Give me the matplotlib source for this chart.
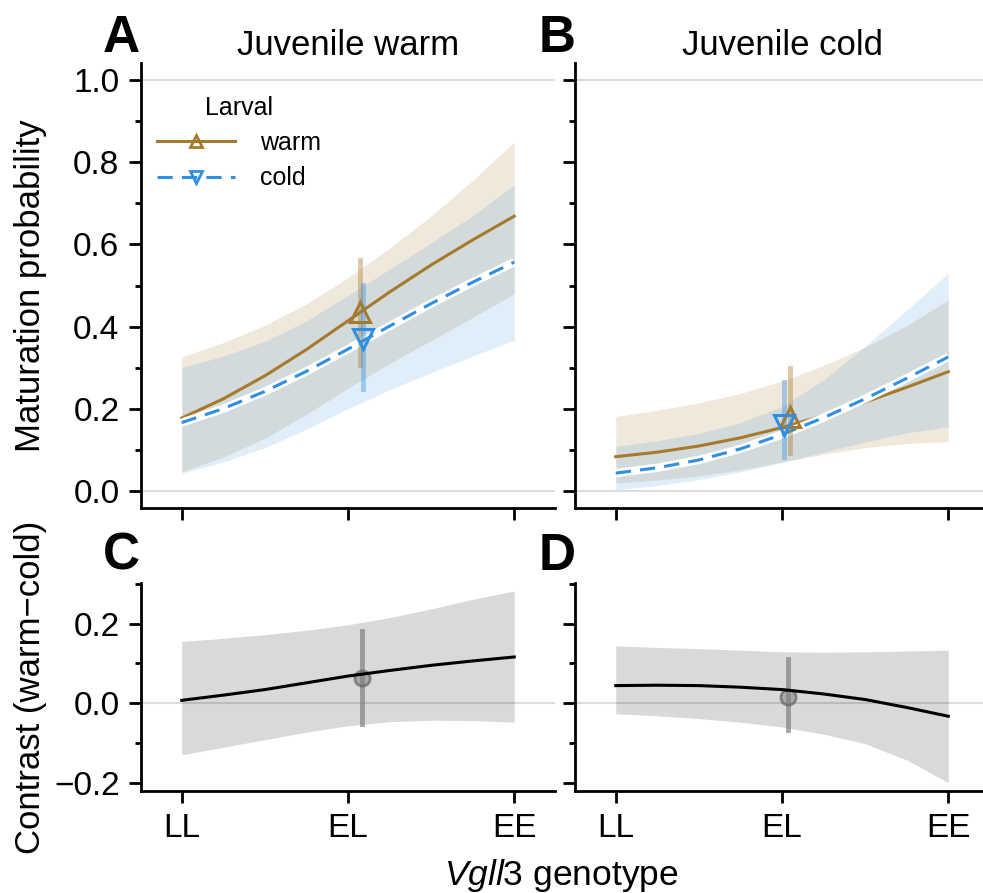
import matplotlib
matplotlib.use('Agg')
import matplotlib.pyplot as plt
from matplotlib.lines import Line2D
from matplotlib.ticker import MultipleLocator

plt.rcParams['font.family'] = ['Liberation Sans', 'DejaVu Sans']
plt.rcParams['mathtext.fontset'] = 'custom'
plt.rcParams['mathtext.it'] = 'Liberation Sans:italic'
plt.rcParams['mathtext.rm'] = 'Liberation Sans'

# genotype axis (0 = LL, 1 = EL, 2 = EE)
genotypes = ['LL', 'EL', 'EE']
xg = [0, 0.25, 0.5, 0.75, 1.0, 1.25, 1.5, 1.75, 2.0]

# A: juvenile warm
a_warm = [0.177, 0.224, 0.280, 0.344, 0.414, 0.484, 0.550, 0.611, 0.669]
a_warm_hi = [0.326, 0.361, 0.403, 0.455, 0.519, 0.591, 0.669, 0.756, 0.850]
a_warm_lo = [0.046, 0.082, 0.128, 0.186, 0.250, 0.310, 0.366, 0.422, 0.480]
a_cold = [0.166, 0.200, 0.242, 0.291, 0.345, 0.401, 0.456, 0.508, 0.557]
a_cold_hi = [0.300, 0.328, 0.364, 0.414, 0.476, 0.540, 0.604, 0.670, 0.745]
a_cold_lo = [0.043, 0.070, 0.105, 0.150, 0.200, 0.246, 0.288, 0.328, 0.367]
a_pts = {'warm': (1.075, 0.436, 0.306, 0.562), 'cold': (1.09, 0.370, 0.248, 0.501)}

# B: juvenile cold
b_warm = [0.083, 0.094, 0.109, 0.129, 0.154, 0.183, 0.216, 0.252, 0.290]
b_warm_hi = [0.181, 0.196, 0.214, 0.237, 0.267, 0.305, 0.350, 0.402, 0.465]
b_warm_lo = [0.019, 0.026, 0.036, 0.051, 0.070, 0.089, 0.105, 0.115, 0.120]
b_cold = [0.043, 0.056, 0.075, 0.102, 0.137, 0.178, 0.224, 0.274, 0.326]
b_cold_hi = [0.108, 0.122, 0.140, 0.166, 0.205, 0.270, 0.352, 0.440, 0.530]
b_cold_lo = [0.002, 0.013, 0.027, 0.046, 0.069, 0.094, 0.119, 0.141, 0.156]
b_pts = {'warm': (1.05, 0.180, 0.093, 0.298), 'cold': (1.01, 0.160, 0.083, 0.266)}

# C / D: contrast warm - cold
c_mid = [0.007, 0.020, 0.034, 0.051, 0.068, 0.082, 0.095, 0.106, 0.116]
c_hi = [0.155, 0.163, 0.172, 0.183, 0.197, 0.215, 0.237, 0.261, 0.282]
c_lo = [-0.130, -0.111, -0.092, -0.073, -0.057, -0.047, -0.043, -0.044, -0.048]
c_pt = (1.087, 0.064, -0.052, 0.182)

d_mid = [0.044, 0.045, 0.044, 0.040, 0.034, 0.023, 0.009, -0.011, -0.033]
d_hi = [0.144, 0.140, 0.137, 0.133, 0.129, 0.128, 0.129, 0.131, 0.133]
d_lo = [-0.027, -0.032, -0.039, -0.048, -0.060, -0.078, -0.102, -0.143, -0.200]
d_pt = (1.035, 0.016, -0.067, 0.110)

warm_col = '#A67A2C'
cold_col = '#2F8FE3'
grid_col = '#DDDDDD'

W, H = 983, 893
fig = plt.figure(figsize=(W / 100, H / 100), dpi=100)


def rect(l, t, r, b):
    return [l / W, (H - b) / H, (r - l) / W, (b - t) / H]


axA = fig.add_axes(rect(141, 63, 555, 508))
axB = fig.add_axes(rect(575, 63, 989, 508))
axC = fig.add_axes(rect(141, 583, 555, 791))
axD = fig.add_axes(rect(575, 583, 989, 791))


def style(ax):
    for s in ['top', 'right']:
        ax.spines[s].set_visible(False)
    for s in ['left', 'bottom']:
        ax.spines[s].set_linewidth(2)
    ax.tick_params(which='major', length=8.5, width=2, labelsize=24, pad=7)
    ax.tick_params(which='minor', length=4.5, width=2)
    ax.tick_params(axis='x', which='minor', bottom=False)
    ax.set_xlim(-0.245, 2.245)
    ax.set_xticks([0, 1, 2])
    ax.set_xticklabels(genotypes)


def top_panel(ax, warm, whi, wlo, cold, chi, clo, pts, title):
    style(ax)
    ax.set_ylim(-0.042, 1.042)
    ax.yaxis.set_major_locator(MultipleLocator(0.2))
    ax.yaxis.set_minor_locator(MultipleLocator(0.1))
    for yv in (0, 1):
        ax.axhline(yv, color=grid_col, lw=1.5, zorder=0)
    ax.fill_between(xg, wlo, whi, color=warm_col, alpha=0.17, lw=0, zorder=1)
    ax.fill_between(xg, clo, chi, color=cold_col, alpha=0.15, lw=0, zorder=1)
    ax.plot(xg, warm, color=warm_col, lw=2.2, zorder=3)
    ax.plot(xg, cold, color='white', lw=6, solid_capstyle='butt', zorder=3)
    ax.plot(xg, cold, color=cold_col, lw=2.2, dashes=(5, 3), zorder=3)
    px, py, lo, hi = pts['warm']
    ax.plot([px, px], [lo, hi], color=warm_col, alpha=0.4, lw=3.5, zorder=4)
    ax.plot(px, py, marker='^', ms=14, mfc='none', mec=warm_col, mew=2.2, zorder=5)
    px, py, lo, hi = pts['cold']
    ax.plot([px, px], [lo, hi], color=cold_col, alpha=0.4, lw=3.5, zorder=4)
    ax.plot(px, py, marker='v', ms=14, mfc='none', mec=cold_col, mew=2.2, zorder=5)
    ax.tick_params(axis='x', labelbottom=False)
    ax.set_title(title, fontsize=25, pad=6)


def bottom_panel(ax, mid, hi, lo, pt):
    style(ax)
    ax.set_ylim(-0.221, 0.302)
    ax.yaxis.set_major_locator(MultipleLocator(0.2))
    ax.yaxis.set_minor_locator(MultipleLocator(0.1))
    ax.axhline(0, color=grid_col, lw=1.5, zorder=0)
    ax.fill_between(xg, lo, hi, color='black', alpha=0.15, lw=0, zorder=1)
    px, py, elo, ehi = pt
    ax.plot([px, px], [elo, ehi], color='#808080', alpha=0.7, lw=3.5, zorder=2)
    ax.plot(px, py, marker='o', ms=11, mfc=(0.5, 0.5, 0.5, 0.55),
            mec=(0.4, 0.4, 0.4, 0.7), mew=2, zorder=2)
    ax.plot(xg, mid, color='black', lw=2.2, zorder=3)


top_panel(axA, a_warm, a_warm_hi, a_warm_lo, a_cold, a_cold_hi, a_cold_lo, a_pts, 'Juvenile warm')
top_panel(axB, b_warm, b_warm_hi, b_warm_lo, b_cold, b_cold_hi, b_cold_lo, b_pts, 'Juvenile cold')
bottom_panel(axC, c_mid, c_hi, c_lo, c_pt)
bottom_panel(axD, d_mid, d_hi, d_lo, d_pt)

axB.tick_params(axis='y', labelleft=False)
axD.tick_params(axis='y', labelleft=False)

axA.set_ylabel('Maturation probability', fontsize=25)
axC.set_ylabel('Contrast (warm\u2212cold)', fontsize=25)
axA.yaxis.set_label_coords(-0.228, 0.5)
axC.yaxis.set_label_coords(-0.228, 0.5)

handles = [
    Line2D([], [], color=warm_col, lw=2.2, marker='^', ms=9, mfc='none', mew=2),
    Line2D([], [], color=cold_col, lw=2.2, dashes=(5, 3), marker='v', ms=9, mfc='none', mew=2),
]
leg = axA.legend(handles, ['warm', 'cold'], title='Larval', loc='upper left',
                 bbox_to_anchor=(0.039, 0.926), borderaxespad=0, borderpad=0,
                 frameon=False, fontsize=18, title_fontsize=18, handlelength=3.1,
                 handletextpad=1.0, labelspacing=0.45, numpoints=1)

for lab, (xp, yp) in zip('ABCD', [(121, 52), (557, 52), (121, 570), (557, 570)]):
    fig.text(xp / W, 1 - yp / H, lab, fontsize=37, fontweight='bold',
             ha='center', va='baseline')

fig.text(561 / W, 1 - 875 / H, r'$Vgll3$ genotype', fontsize=25.5, ha='center', va='center')

fig.savefig('out.png', dpi=100)
